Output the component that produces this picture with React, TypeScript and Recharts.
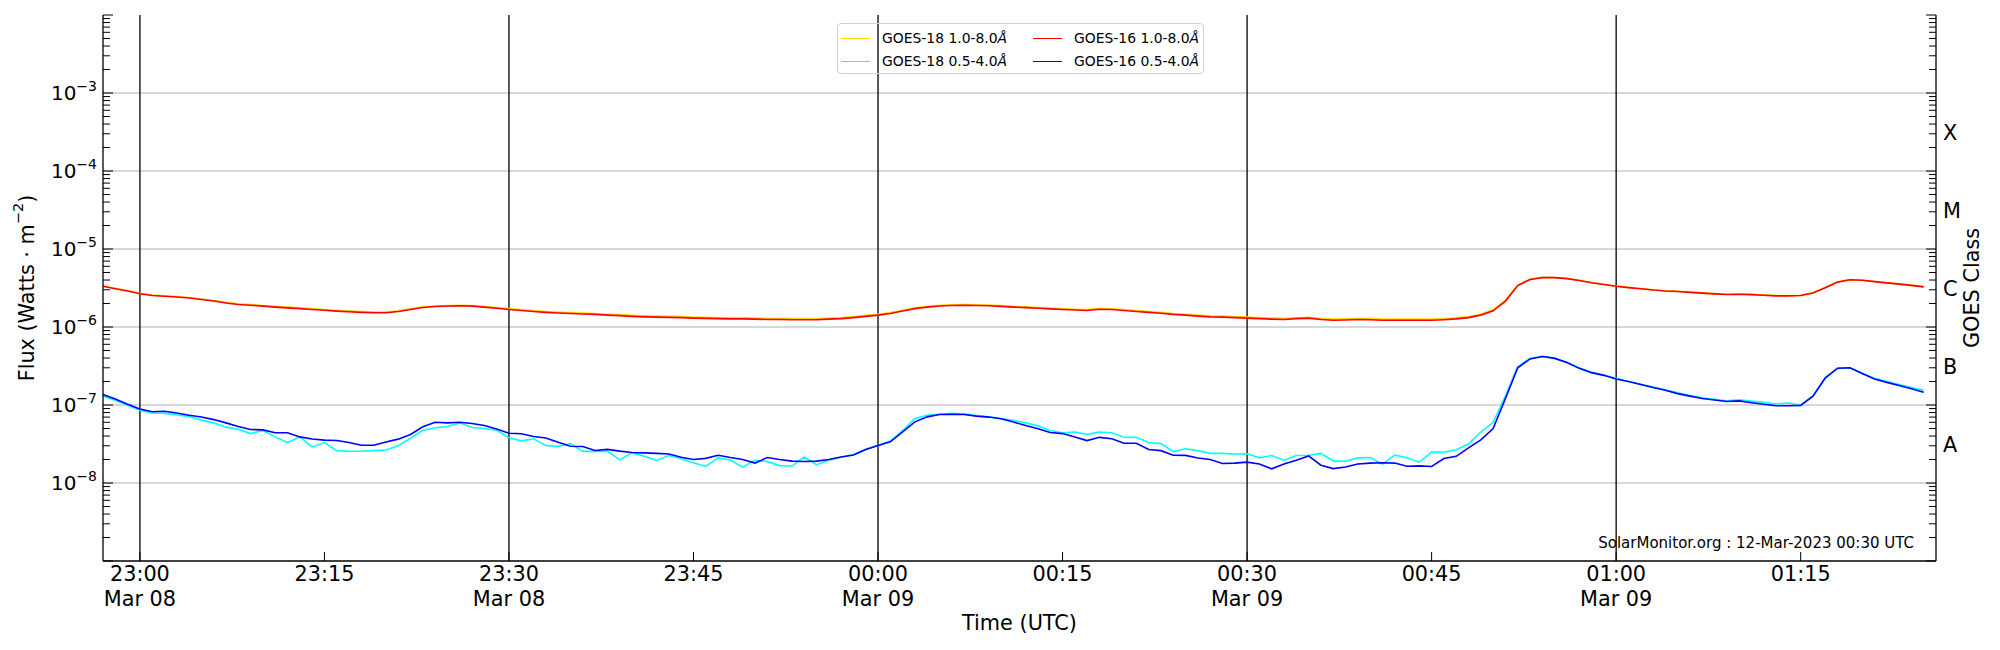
import { LineChart, Line, XAxis, YAxis, ReferenceLine } from 'recharts';

const FONT = '"DejaVu Sans", Verdana, sans-serif';

// one sample per minute, starting 22:57 UT on 8 March (minutes are counted from 23:00)
const firstMinute = -3;

// 1.0-8.0 Å channel, in units of 1e-6 W m^-2
const goes18Long = [
  3.36, 3.13, 2.93, 2.71, 2.57, 2.52, 2.46, 2.39, 2.29, 2.19,
  2.07, 1.98, 1.94, 1.89, 1.84, 1.8, 1.76, 1.72, 1.68, 1.64,
  1.61, 1.58, 1.56, 1.55, 1.61, 1.71, 1.81, 1.86, 1.89, 1.9,
  1.88, 1.83, 1.78, 1.72, 1.67, 1.62, 1.58, 1.55, 1.53, 1.51,
  1.49, 1.46, 1.44, 1.41, 1.39, 1.38, 1.37, 1.36, 1.34, 1.33,
  1.32, 1.31, 1.31, 1.3, 1.29, 1.29, 1.28, 1.28, 1.28, 1.3,
  1.32, 1.36, 1.41, 1.46, 1.53, 1.64, 1.76, 1.84, 1.9, 1.93,
  1.94, 1.93, 1.91, 1.88, 1.84, 1.81, 1.78, 1.75, 1.72, 1.69,
  1.67, 1.72, 1.71, 1.67, 1.62, 1.58, 1.54, 1.49, 1.46, 1.42,
  1.39, 1.38, 1.36, 1.34, 1.32, 1.3, 1.29, 1.31, 1.33, 1.29,
  1.26, 1.27, 1.28, 1.28, 1.26, 1.26, 1.26, 1.26, 1.26, 1.28,
  1.31, 1.36, 1.46, 1.66, 2.2, 3.44, 4.1, 4.33, 4.32, 4.19,
  3.97, 3.72, 3.52, 3.35, 3.22, 3.12, 3.0, 2.92, 2.87, 2.8,
  2.74, 2.68, 2.63, 2.65, 2.62, 2.57, 2.53, 2.53, 2.55, 2.74,
  3.2, 3.78, 4.05, 3.99, 3.84, 3.7, 3.57, 3.44, 3.29,
];
const goes16Long = [
  3.33, 3.1, 2.9, 2.67, 2.53, 2.48, 2.42, 2.35, 2.25, 2.15,
  2.03, 1.94, 1.9, 1.85, 1.8, 1.76, 1.72, 1.68, 1.64, 1.6,
  1.57, 1.54, 1.52, 1.52, 1.58, 1.68, 1.78, 1.83, 1.86, 1.87,
  1.85, 1.8, 1.74, 1.68, 1.63, 1.58, 1.54, 1.51, 1.49, 1.47,
  1.45, 1.42, 1.4, 1.37, 1.35, 1.34, 1.33, 1.32, 1.3, 1.29,
  1.28, 1.27, 1.27, 1.26, 1.25, 1.25, 1.24, 1.24, 1.24, 1.26,
  1.28, 1.32, 1.37, 1.42, 1.49, 1.6, 1.72, 1.8, 1.86, 1.89,
  1.9, 1.89, 1.87, 1.84, 1.8, 1.77, 1.74, 1.71, 1.68, 1.65,
  1.63, 1.69, 1.68, 1.63, 1.58, 1.54, 1.5, 1.45, 1.42, 1.38,
  1.35, 1.34, 1.32, 1.3, 1.28, 1.26, 1.25, 1.28, 1.3, 1.25,
  1.22, 1.23, 1.25, 1.24, 1.22, 1.22, 1.22, 1.22, 1.22, 1.24,
  1.27, 1.32, 1.42, 1.61, 2.15, 3.4, 4.06, 4.3, 4.3, 4.17,
  3.95, 3.7, 3.5, 3.33, 3.2, 3.1, 2.98, 2.9, 2.85, 2.78,
  2.72, 2.66, 2.61, 2.63, 2.6, 2.55, 2.51, 2.51, 2.53, 2.72,
  3.18, 3.76, 4.03, 3.97, 3.82, 3.68, 3.55, 3.42, 3.27,
];

// 0.5-4.0 Å channel, in units of 1e-8 W m^-2
const goes18Short = [
  13.0, 11.5, 9.9, 8.6, 7.9, 7.8, 7.5, 7.1, 6.4, 5.9,
  5.2, 4.9, 4.3, 4.7, 3.9, 3.3, 3.9, 2.9, 3.3, 2.6,
  2.55, 2.55, 2.6, 2.65, 3.0, 3.75, 4.75, 5.1, 5.3, 5.9,
  5.15, 5.0, 4.75, 3.79, 3.47, 3.69, 3.03, 2.95, 3.2, 2.54,
  2.54, 2.56, 1.98, 2.43, 2.2, 1.95, 2.25, 2.05, 1.82, 1.63,
  2.1, 1.97, 1.6, 1.96, 1.88, 1.67, 1.65, 2.15, 1.72, 1.96,
  2.15, 2.3, 2.69, 3.03, 3.45, 4.7, 6.7, 7.4, 7.6, 7.8,
  7.7, 7.35, 7.05, 6.7, 6.35, 5.9, 5.4, 4.7, 4.4, 4.5,
  4.2, 4.5, 4.4, 3.86, 3.85, 3.3, 3.2, 2.53, 2.75, 2.6,
  2.4, 2.4, 2.35, 2.37, 2.1, 2.25, 1.96, 2.25, 2.27, 2.4,
  1.92, 1.9, 2.1, 2.12, 1.75, 2.28, 2.1, 1.85, 2.5, 2.48,
  2.67, 3.16, 4.5, 6.0, 13.0, 31.0, 39.5, 42.0, 40.0, 35.0,
  30.0, 26.2, 24.2, 22.0, 20.0, 18.5, 17.0, 15.7, 14.3, 13.2,
  12.4, 11.8, 11.3, 11.7, 11.2, 10.8, 10.3, 10.6, 10.0, 13.0,
  22.0, 29.5, 30.0, 25.5, 22.0, 20.0, 18.3, 16.8, 15.5,
];
const goes16Short = [
  13.6, 11.9, 10.2, 8.9, 8.2, 8.3, 7.9, 7.4, 7.0, 6.5,
  5.9, 5.3, 4.85, 4.8, 4.4, 4.4, 3.9, 3.67, 3.55, 3.5,
  3.3, 3.05, 3.05, 3.35, 3.65, 4.19, 5.25, 6.0, 5.9, 6.0,
  5.8, 5.46, 4.94, 4.35, 4.28, 3.94, 3.77, 3.33, 2.96, 2.94,
  2.61, 2.7, 2.56, 2.46, 2.43, 2.4, 2.35, 2.14, 2.0, 2.07,
  2.27, 2.12, 2.0, 1.8, 2.12, 2.0, 1.91, 1.89, 1.91, 2.0,
  2.15, 2.28, 2.69, 3.03, 3.37, 4.53, 6.08, 7.05, 7.55, 7.6,
  7.55, 7.2, 7.0, 6.65, 6.05, 5.45, 4.95, 4.45, 4.3, 3.9,
  3.5, 3.85, 3.7, 3.24, 3.24, 2.69, 2.6, 2.27, 2.26, 2.09,
  2.0, 1.78, 1.8, 1.85, 1.75, 1.52, 1.75, 1.96, 2.22, 1.69,
  1.53, 1.6, 1.75, 1.8, 1.82, 1.8, 1.64, 1.66, 1.63, 2.06,
  2.2, 2.82, 3.57, 5.0, 12.1, 30.0, 39.0, 41.9, 39.6, 35.0,
  29.5, 26.0, 24.0, 21.6, 20.0, 18.3, 16.8, 15.5, 14.0, 13.0,
  12.1, 11.6, 11.1, 11.3, 10.7, 10.2, 9.8, 9.8, 9.9, 13.0,
  22.3, 29.6, 30.0, 25.3, 21.6, 19.5, 17.8, 16.2, 14.6,
];

const seriesKeys = ['g18Long', 'g18Short', 'g16Long', 'g16Short'];
const seriesNames = ['GOES-18 1.0-8.0', 'GOES-18 0.5-4.0', 'GOES-16 1.0-8.0', 'GOES-16 0.5-4.0'];
const seriesColors = ['#ffd700', '#00ffff', '#ff0000', '#0000ff'];

const timeTicks = [0, 15, 30, 45, 60, 75, 90, 105, 120, 135];
const timeLabels = ['23:00', '23:15', '23:30', '23:45', '00:00', '00:15', '00:30', '00:45', '01:00', '01:15'];
const dateLabels = ['Mar 08', '', 'Mar 08', '', 'Mar 09', '', 'Mar 09', '', 'Mar 09', ''];
const hourLines = [0, 30, 60, 90, 120];

const fluxDecades = [1e-9, 1e-8, 1e-7, 1e-6, 1e-5, 1e-4, 1e-3, 1e-2];
const labelledExponents = [-8, -7, -6, -5, -4, -3];
const minorSteps = [2, 3, 4, 5, 6, 7, 8, 9];

const classLetters = ['A', 'B', 'C', 'M', 'X'];
const classCentres = [3.16e-8, 3.16e-7, 3.16e-6, 3.16e-5, 3.16e-4];

const rows = goes16Long.map((_, i) => ({
  minute: firstMinute + i,
  g18Long: goes18Long[i] * 1e-6,
  g16Long: goes16Long[i] * 1e-6,
  g18Short: goes18Short[i] * 1e-8,
  g16Short: goes16Short[i] * 1e-8,
}));

const fluxTicks = fluxDecades.flatMap((d) =>
  d === 1e-2 ? [d] : [d, ...minorSteps.map((k) => k * d)]
);
const classTicks = [...fluxTicks, ...classCentres];

const isDecade = (v: number) => {
  const e = Math.log10(v);
  return Math.abs(e - Math.round(e)) < 1e-6;
};

function FluxTick(props: any) {
  const { x, y, payload } = props;
  const major = isDecade(payload.value);
  const e = Math.round(Math.log10(payload.value));
  return (
    <g>
      <line x1={x} x2={x + (major ? 10 : 7)} y1={y} y2={y} stroke="#000" strokeWidth={1} />
      {major && labelledExponents.includes(e) && (
        <text x={x - 6} y={y + 7} textAnchor="end" fontFamily={FONT} fontSize={20} fill="#000">
          10
          <tspan dy={-9} fontSize={14}>
            {'\u2212' + Math.abs(e)}
          </tspan>
        </text>
      )}
    </g>
  );
}

function ClassTick(props: any) {
  const { x, y, payload } = props;
  const ci = classCentres.indexOf(payload.value);
  if (ci >= 0) {
    return (
      <text x={x + 7} y={y + 7.5} fontFamily={FONT} fontSize={20.8} fill="#000">
        {classLetters[ci]}
      </text>
    );
  }
  const major = isDecade(payload.value);
  return <line x1={x} x2={x - (major ? 10 : 7)} y1={y} y2={y} stroke="#000" strokeWidth={1} />;
}

function TimeTick(props: any) {
  const { x, y, payload } = props;
  const i = timeTicks.indexOf(payload.value);
  return (
    <g>
      <line x1={x} x2={x} y1={y} y2={y - 9} stroke="#000" strokeWidth={1} />
      <text x={x} y={y + 20} textAnchor="middle" fontFamily={FONT} fontSize={20.8} fill="#000">
        {timeLabels[i]}
      </text>
      {dateLabels[i] && (
        <text x={x} y={y + 45} textAnchor="middle" fontFamily={FONT} fontSize={20.8} fill="#000">
          {dateLabels[i]}
        </text>
      )}
    </g>
  );
}

function FluxLabel(props: any) {
  const vb = props.viewBox || { x: 0, y: 15, width: 103, height: 546 };
  const cx = vb.x + 27;
  const cy = vb.y + vb.height / 2;
  return (
    <text
      x={cx}
      y={cy}
      transform={`rotate(-90, ${cx}, ${cy})`}
      textAnchor="middle"
      dominantBaseline="central"
      fontFamily={FONT}
      fontSize={20.8}
      fill="#000"
    >
      Flux (Watts · m
      <tspan dy={-9} fontSize={14.5}>
        −2
      </tspan>
      <tspan dy={9}>)</tspan>
    </text>
  );
}

function ClassLabel(props: any) {
  const vb = props.viewBox || { x: 1936, y: 15, width: 64, height: 546 };
  const cx = vb.x + 36;
  const cy = vb.y + vb.height / 2;
  return (
    <text
      x={cx}
      y={cy}
      transform={`rotate(-90, ${cx}, ${cy})`}
      textAnchor="middle"
      dominantBaseline="central"
      fontFamily={FONT}
      fontSize={20.8}
      fill="#000"
    >
      GOES Class
    </text>
  );
}

function TimeLabel(props: any) {
  const vb = props.viewBox || { x: 103, y: 561, width: 1833, height: 89 };
  return (
    <text x={vb.x + vb.width / 2} y={vb.y + 69} textAnchor="middle" fontFamily={FONT} fontSize={20.8} fill="#000">
      Time (UTC)
    </text>
  );
}

function GoesLegend() {
  return (
    <div
      style={{
        position: 'absolute',
        left: 837,
        top: 23,
        width: 367,
        height: 51,
        boxSizing: 'border-box',
        border: '1px solid #d0d0d0',
        borderRadius: 4,
        fontFamily: FONT,
        fontSize: 13.9,
        color: '#000',
      }}
    >
      {seriesNames.map((name, i) => (
        <div
          key={name}
          style={{
            position: 'absolute',
            left: 3 + Math.floor(i / 2) * 192,
            top: 4 + (i % 2) * 23.4,
            height: 20,
            display: 'flex',
            alignItems: 'center',
            whiteSpace: 'nowrap',
          }}
        >
          <span style={{ width: 29, borderTop: `1.5px solid ${seriesColors[i]}`, marginRight: 12 }} />
          <span>
            {name}
            <i>Å</i>
          </span>
        </div>
      ))}
    </div>
  );
}

export default function App() {
  const axisLine = { stroke: '#000', strokeWidth: 1.3 };
  return (
    <div style={{ position: 'absolute', left: 0, top: 0, width: 2000, height: 650, background: '#fff' }}>
      <LineChart width={2000} height={650} data={rows} margin={{ top: 15, right: 0, bottom: 0, left: 0 }}>
        <XAxis
          dataKey="minute"
          type="number"
          domain={[-3, 146]}
          allowDataOverflow
          ticks={timeTicks}
          interval={0}
          tick={<TimeTick />}
          tickLine={false}
          tickSize={0}
          tickMargin={0}
          height={89}
          axisLine={axisLine}
          label={<TimeLabel />}
        />
        <XAxis
          xAxisId="top"
          orientation="top"
          type="number"
          domain={[-3, 146]}
          height={0}
          tick={false}
          tickLine={false}
          axisLine={axisLine}
        />
        <YAxis
          type="number"
          scale="log"
          domain={[1e-9, 1e-2]}
          allowDataOverflow
          ticks={fluxTicks}
          interval={0}
          tick={<FluxTick />}
          tickLine={false}
          tickSize={0}
          tickMargin={0}
          width={103}
          axisLine={axisLine}
          label={<FluxLabel />}
        />
        <YAxis
          yAxisId="class"
          orientation="right"
          type="number"
          scale="log"
          domain={[1e-9, 1e-2]}
          allowDataOverflow
          ticks={classTicks}
          interval={0}
          tick={<ClassTick />}
          tickLine={false}
          tickSize={0}
          tickMargin={0}
          width={64}
          axisLine={axisLine}
          label={<ClassLabel />}
        />
        {fluxDecades.slice(1, -1).map((v) => (
          <ReferenceLine key={`grid-${v}`} y={v} stroke="#b0b0b0" strokeWidth={1} />
        ))}
        {hourLines.map((m) => (
          <ReferenceLine key={`hour-${m}`} x={m} stroke="#000" strokeWidth={1.3} />
        ))}
        <Line
          dataKey={seriesKeys[0]}
          name={seriesNames[0]}
          stroke={seriesColors[0]}
          strokeWidth={1.6}
          dot={false}
          type="linear"
          isAnimationActive={false}
        />
        <Line
          dataKey={seriesKeys[1]}
          name={seriesNames[1]}
          stroke={seriesColors[1]}
          strokeWidth={1.6}
          dot={false}
          type="linear"
          isAnimationActive={false}
        />
        <Line
          dataKey={seriesKeys[2]}
          name={seriesNames[2]}
          stroke={seriesColors[2]}
          strokeWidth={1.6}
          dot={false}
          type="linear"
          isAnimationActive={false}
        />
        <Line
          dataKey={seriesKeys[3]}
          name={seriesNames[3]}
          stroke={seriesColors[3]}
          strokeWidth={1.6}
          dot={false}
          type="linear"
          isAnimationActive={false}
        />
      </LineChart>
      <GoesLegend />
      <div
        style={{
          position: 'absolute',
          right: 86,
          top: 536,
          fontFamily: FONT,
          fontSize: 15,
          lineHeight: 1,
          whiteSpace: 'nowrap',
          color: '#000',
        }}
      >
        SolarMonitor.org : 12-Mar-2023 00:30 UTC
      </div>
    </div>
  );
}
